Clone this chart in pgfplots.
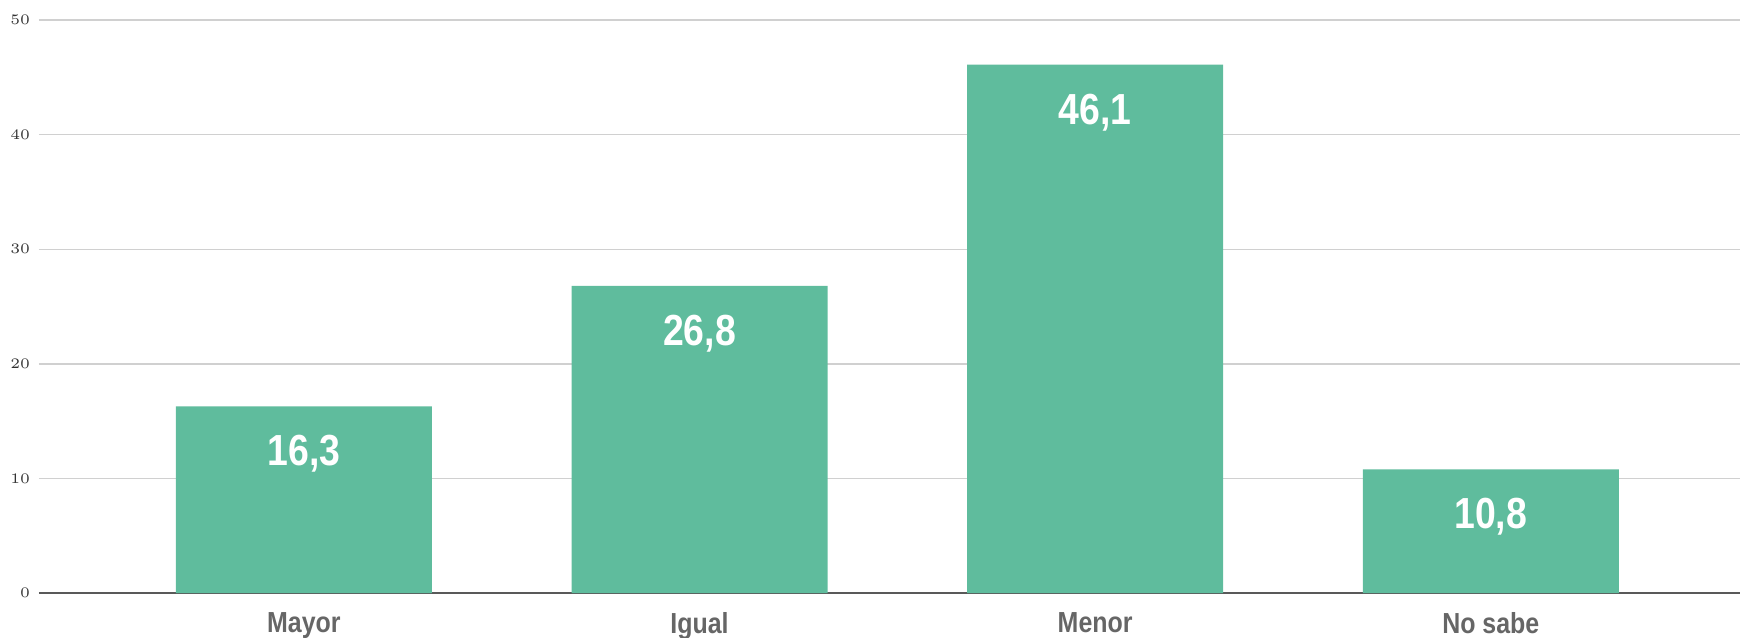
\documentclass[border=0pt]{standalone}
\usepackage{pgfplots}
\pgfplotsset{compat=1.18}
\usepackage{fontspec}
\setmainfont{Liberation Sans}
\newfontfamily\condbold[FakeStretch=0.86]{Liberation Sans Bold}
\newfontfamily\lmserif{Latin Modern Roman}
\definecolor{barc}{HTML}{5FBC9D}
\definecolor{gridc}{HTML}{D0D0D0}
\definecolor{labc}{HTML}{666666}
\begin{document}
\begin{tikzpicture}
\begin{axis}[
  name=a,
  scale only axis,
  width=586.5pt, height=197.6pt,
  xmin=-0.67, xmax=3.63,
  ymin=0, ymax=50,
  ytick={0,10,...,50},
  xtick={0,1,2,3},
  xticklabels={Mayor,Igual,Menor,No sabe},
  axis x line*=bottom,
  axis y line*=left,
  y axis line style={draw=none},
  ymajorgrids,
  grid style={gridc, line width=0.5pt},
  x axis line style={draw=black!65, line width=0.7pt, -},
  major tick length=0pt,
  xticklabel style={font=\condbold\fontsize{10}{12}\selectfont, text=labc, yshift=-3pt},
  yticklabel style={font=\lmserif\fontsize{4.2}{4.2}\selectfont, text=black!80, xshift=0.5pt},
  ybar, bar width=0.647,
  point meta=explicit symbolic,
  nodes near coords,
  nodes near coords style={font=\condbold\fontsize{15}{18}\selectfont, text=white, anchor=north, yshift=-6.5pt},
]
\addplot[fill=barc, draw=none] table[meta=lab] {
x y lab
0 16.3 16,3
1 26.8 26,8
2 46.1 46,1
3 10.8 10,8
};
\end{axis}
\pgfresetboundingbox
\path[use as bounding box] ([xshift=-13.4pt,yshift=-15.2pt]a.south west) rectangle ([yshift=6.9pt]a.north east);
\end{tikzpicture}
\end{document}
